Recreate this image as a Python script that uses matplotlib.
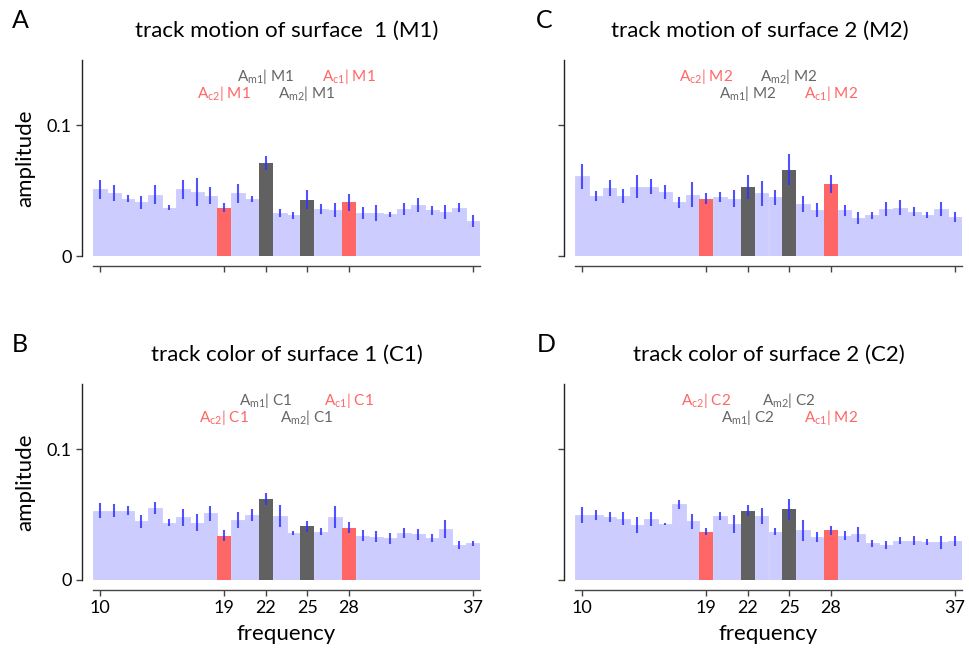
import matplotlib
matplotlib.use("Agg")
import matplotlib.pyplot as plt
import numpy as np

plt.rcParams['font.family'] = ['Lato', 'DejaVu Sans']
plt.rcParams['mathtext.fontset'] = 'custom'
plt.rcParams['mathtext.rm'] = 'Lato'
plt.rcParams['mathtext.it'] = 'Lato:italic'
plt.rcParams['mathtext.bf'] = 'Lato:bold'

freqs = list(range(10, 38))
tick_freqs = [10, 19, 22, 25, 28, 37]
red_freqs = [19, 28]
dark_freqs = [22, 25]

amp_A = [0.051, 0.048, 0.044, 0.041, 0.047, 0.037, 0.051, 0.049, 0.046, 0.037,
         0.048, 0.044, 0.071, 0.033, 0.031, 0.043, 0.036, 0.035, 0.041, 0.033,
         0.033, 0.032, 0.036, 0.039, 0.035, 0.034, 0.037, 0.027]
err_A = [0.007, 0.006, 0.003, 0.005, 0.007, 0.002, 0.0075, 0.011, 0.0065, 0.0036,
         0.0074, 0.0023, 0.0053, 0.0033, 0.003, 0.0073, 0.0036, 0.0052, 0.0065, 0.0047,
         0.006, 0.0018, 0.0048, 0.0056, 0.0033, 0.0054, 0.0037, 0.0046]

amp_B = [0.053, 0.053, 0.053, 0.045, 0.055, 0.044, 0.048, 0.044, 0.051, 0.034,
         0.046, 0.050, 0.062, 0.049, 0.036, 0.041, 0.037, 0.048, 0.040, 0.034,
         0.033, 0.032, 0.036, 0.035, 0.032, 0.039, 0.027, 0.028]
err_B = [0.0056, 0.005, 0.0033, 0.005, 0.0048, 0.003, 0.0065, 0.0062, 0.0057, 0.004,
         0.006, 0.0046, 0.0046, 0.0085, 0.0018, 0.0045, 0.0028, 0.0084, 0.0043, 0.004,
         0.0043, 0.0043, 0.004, 0.0041, 0.0032, 0.0067, 0.003, 0.0019]

amp_C = [0.061, 0.046, 0.052, 0.046, 0.053, 0.053, 0.049, 0.041, 0.047, 0.044,
         0.045, 0.044, 0.053, 0.048, 0.045, 0.066, 0.040, 0.035, 0.055, 0.035,
         0.029, 0.031, 0.036, 0.037, 0.034, 0.031, 0.036, 0.030]
err_C = [0.0095, 0.004, 0.0064, 0.0052, 0.0088, 0.0059, 0.005, 0.004, 0.0093, 0.0043,
         0.0037, 0.0062, 0.0093, 0.0095, 0.0056, 0.0118, 0.006, 0.0053, 0.0069, 0.0042,
         0.0043, 0.0029, 0.0053, 0.006, 0.0037, 0.0023, 0.0052, 0.0037]

amp_D = [0.050, 0.050, 0.048, 0.047, 0.042, 0.047, 0.043, 0.058, 0.045, 0.037,
         0.049, 0.043, 0.053, 0.049, 0.037, 0.054, 0.038, 0.033, 0.038, 0.034,
         0.035, 0.028, 0.027, 0.030, 0.030, 0.029, 0.029, 0.030]
err_D = [0.006, 0.0038, 0.0038, 0.0047, 0.0064, 0.0053, 0.001, 0.0034, 0.0056, 0.0028,
         0.0033, 0.0069, 0.0043, 0.0062, 0.0027, 0.0079, 0.008, 0.0036, 0.0037, 0.0033,
         0.0056, 0.0028, 0.003, 0.0028, 0.0033, 0.002, 0.005, 0.0038]

titles = ["track motion of surface  1 (M1)", "track color of surface 1 (C1)",
          "track motion of surface 2 (M2)", "track color of surface 2 (C2)"]
letters = ["A", "B", "C", "D"]

# annotation labels: (frequency, row, kind, text)
ann_A = [(22, 0, 'm', r"A$_{\rm m1}$| M1"), (28, 0, 'c', r"A$_{\rm c1}$| M1"),
         (19, 1, 'c', r"A$_{\rm c2}$| M1"), (25, 1, 'm', r"A$_{\rm m2}$| M1")]
ann_B = [(22, 0, 'm', r"A$_{\rm m1}$| C1"), (28, 0, 'c', r"A$_{\rm c1}$| C1"),
         (19, 1, 'c', r"A$_{\rm c2}$| C1"), (25, 1, 'm', r"A$_{\rm m2}$| C1")]
ann_C = [(19, 0, 'c', r"A$_{\rm c2}$| M2"), (25, 0, 'm', r"A$_{\rm m2}$| M2"),
         (22, 1, 'm', r"A$_{\rm m1}$| M2"), (28, 1, 'c', r"A$_{\rm c1}$| M2")]
ann_D = [(19, 0, 'c', r"A$_{\rm c2}$| C2"), (25, 0, 'm', r"A$_{\rm m2}$| C2"),
         (22, 1, 'm', r"A$_{\rm m1}$| C2"), (28, 1, 'c', r"A$_{\rm c1}$| M2")]

LIGHT = '#ccccff'
RED = '#ff6666'
DARK = '#616161'
GRAY_TXT = '#666666'
RED_TXT = '#ff6666'

fig = plt.figure(figsize=(9.69, 6.6), dpi=100)
W, H = 969, 660

def make_ax(left_px, bottom_px):
    return fig.add_axes([left_px / W, (H - bottom_px) / H, 387 / W, 196 / H])

panels = [
    (make_ax(93, 256), amp_A, err_A, ann_A, True, False, 0.5),
    (make_ax(93, 580), amp_B, err_B, ann_B, True, True, 0.5),
    (make_ax(575, 256), amp_C, err_C, ann_C, False, False, 0.478),
    (make_ax(575, 580), amp_D, err_D, ann_D, False, True, 0.5),
]

for i, (ax, amp, err, ann, is_left, is_bottom, tx) in enumerate(panels):
    colors = [RED if f in red_freqs else DARK if f in dark_freqs else LIGHT for f in freqs]
    # background (light) bars first, then highlighted bars on top
    light_idx = [k for k, f in enumerate(freqs) if colors[k] == LIGHT]
    hi_idx = [k for k, f in enumerate(freqs) if colors[k] != LIGHT]
    ax.bar([freqs[k] for k in light_idx], [amp[k] for k in light_idx], width=1.0,
           color=LIGHT, edgecolor=LIGHT, linewidth=0.6, zorder=1)
    ax.bar([freqs[k] for k in hi_idx], [amp[k] for k in hi_idx], width=1.0,
           color=[colors[k] for k in hi_idx], edgecolor='none', zorder=2)
    ax.errorbar(freqs, amp, yerr=err, fmt='none', ecolor='#3333ff', elinewidth=1.5,
                capsize=0, zorder=3, alpha=0.85)
    ax.set_xlim(9.5, 37.5)
    ax.set_ylim(0, 0.15)
    for s in ['top', 'right']:
        ax.spines[s].set_visible(False)
    ax.spines['left'].set_position(('outward', 8))
    ax.spines['bottom'].set_position(('outward', 7))
    ax.spines['left'].set_color('#222222')
    ax.spines['bottom'].set_color('#444444')
    ax.spines['left'].set_linewidth(1.0)
    ax.spines['bottom'].set_linewidth(1.0)
    ax.set_yticks([0, 0.1])
    ax.set_xticks(tick_freqs)
    ax.tick_params(axis='both', direction='out', length=4, width=1.0, color='#444444',
                   labelsize=13)
    if is_left:
        ax.set_yticklabels(['0', '0.1'])
        ax.set_ylabel('amplitude', fontsize=16, labelpad=8)
    else:
        ax.set_yticklabels([])
    if is_bottom:
        ax.set_xticklabels([str(t) for t in tick_freqs])
        ax.set_xlabel('frequency', fontsize=16, labelpad=6)
    else:
        ax.set_xticklabels([])
    ax.set_title(titles[i], fontsize=16, pad=17, x=tx)
    ax.text(-0.21 if is_left else -0.10, 1.2, letters[i], transform=ax.transAxes,
            fontsize=18, ha='left', va='center')
    for f, row, kind, txt in ann:
        y = 0.1375 if row == 0 else 0.1245
        ax.text(f, y, txt, ha='center', va='center', fontsize=11,
                color=GRAY_TXT if kind == 'm' else RED_TXT)

fig.savefig('out.png', dpi=100)
